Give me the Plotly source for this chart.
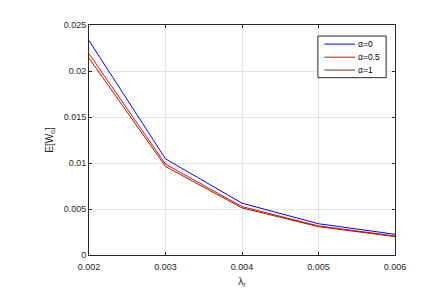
import plotly.graph_objects as go

lambda_r = [0.002, 0.003, 0.004, 0.005, 0.006]
alpha_labels = ["α=0", "α=0.5", "α=1"]
e_alpha0 = [0.02330, 0.01045, 0.00563, 0.00340, 0.00225]
e_alpha05 = [0.02188, 0.00987, 0.00526, 0.00316, 0.00207]
e_alpha1 = [0.02140, 0.00962, 0.00512, 0.00308, 0.00200]
x_ticks = [0.002, 0.003, 0.004, 0.005, 0.006]
x_tick_text = ["0.002", "0.003", "0.004", "0.005", "0.006"]
y_ticks = [0, 0.005, 0.01, 0.015, 0.02, 0.025]
y_tick_text = ["0", "0.005", "0.01", "0.015", "0.02", "0.025"]

colors = ["#0000ff", "#ff0000", "#7a2a00"]
series = [e_alpha0, e_alpha05, e_alpha1]

fig = go.Figure()
for name, ys, c in zip(alpha_labels, series, colors):
    fig.add_trace(go.Scatter(x=lambda_r, y=ys, mode="lines", name=name,
                             line=dict(color=c, width=1), showlegend=False))

font = dict(family="Liberation Sans, Arial, sans-serif", size=9, color="#262626")

# compact legend box (MATLAB style) drawn in plot-area coordinates
shapes = [dict(type="rect", xref="x domain", yref="y domain",
               x0=0.748, x1=0.971, y0=0.771, y1=0.952,
               line=dict(color="#262626", width=1), fillcolor="white", layer="above")]
annotations = []
legend_rows = [0.917, 0.860, 0.804]
for name, c, yy in zip(alpha_labels, colors, legend_rows):
    shapes.append(dict(type="line", xref="x domain", yref="y domain",
                       x0=0.769, x1=0.869, y0=yy, y1=yy,
                       line=dict(color=c, width=1), layer="above"))
    annotations.append(dict(xref="x domain", yref="y domain", x=0.874, y=yy,
                            text=name, showarrow=False, xanchor="left", yanchor="middle",
                            font=dict(family="Liberation Sans, Arial, sans-serif",
                                      size=8.5, color="#000000")))

# page body has an 8px margin; figure offset accordingly
fig.update_layout(
    width=425, height=296,
    margin=dict(l=81, r=38, t=17, b=49),
    paper_bgcolor="white", plot_bgcolor="white",
    font=font,
    showlegend=False,
    shapes=shapes,
    annotations=annotations,
)
fig.update_xaxes(range=[0.002, 0.006], tickvals=x_ticks, ticktext=x_tick_text,
                 showgrid=True, gridcolor="#e3e3e3", gridwidth=1,
                 showline=True, linecolor="#262626", linewidth=1, mirror="ticks",
                 ticks="inside", ticklen=3, tickcolor="#262626",
                 ticklabelstandoff=3,
                 zeroline=False,
                 title=dict(text="λ<sub>r</sub>", standoff=7, font=dict(size=10)))
fig.update_yaxes(range=[0, 0.025], tickvals=y_ticks, ticktext=y_tick_text,
                 showgrid=True, gridcolor="#e3e3e3", gridwidth=1,
                 showline=True, linecolor="#262626", linewidth=1, mirror="ticks",
                 ticks="inside", ticklen=3, tickcolor="#262626",
                 zeroline=False,
                 title=dict(text="E[W<sub>o</sub>]", standoff=8, font=dict(size=10)))

fig.write_html("out.html")
